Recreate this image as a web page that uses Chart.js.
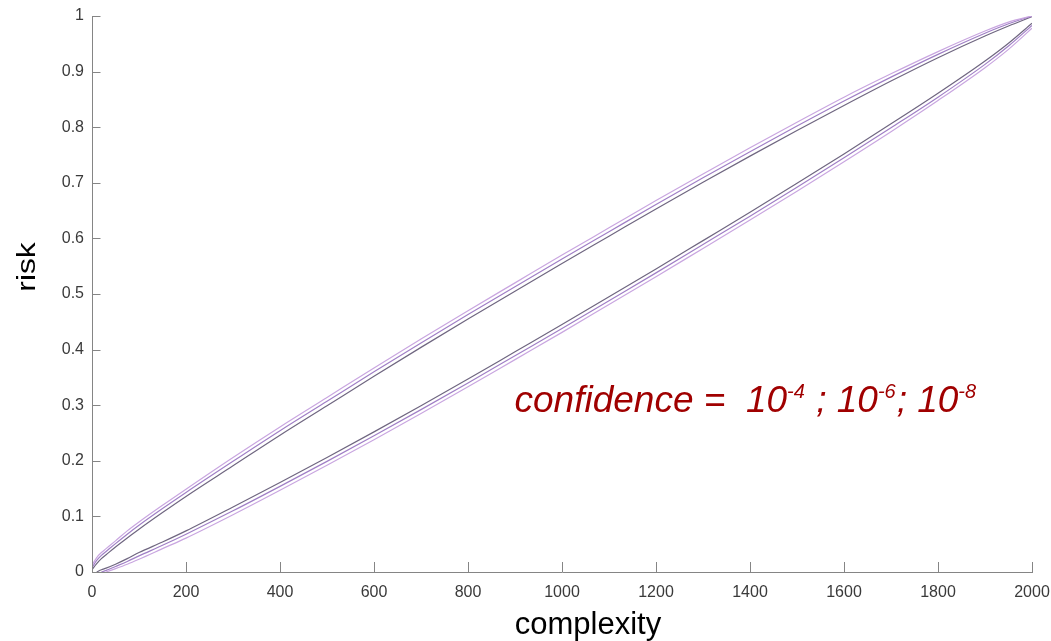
<!DOCTYPE html>
<html>
<head>
<meta charset="utf-8">
<script src="https://cdn.jsdelivr.net/npm/chart.js@4.4.1/dist/chart.umd.min.js"></script>
<style>
  html, body { margin: 0; padding: 0; background: #ffffff; }
  #wrap { width: 1051px; height: 641px; position: relative; }
</style>
</head>
<body>
<div id="wrap"><canvas id="c"></canvas></div>
<script>
// ---- data ----
const complexity = [0,10,20,30,50,75,100,150,200,300,400,500,600,700,800,900,1000,1100,1200,1300,1400,1500,1600,1700,1800,1900,1950,2000];

const upperConf4 = [0.004,0.015,0.024,0.031,0.045,0.061,0.077,0.107,0.136,0.191,0.246,0.299,0.352,0.404,0.455,0.505,0.555,0.604,0.653,0.701,0.748,0.794,0.839,0.883,0.925,0.964,0.982,0.999];
const upperConf6 = [0.008,0.021,0.030,0.037,0.051,0.068,0.084,0.114,0.143,0.199,0.254,0.307,0.360,0.412,0.463,0.513,0.563,0.612,0.661,0.709,0.756,0.802,0.847,0.890,0.931,0.969,0.986,1.000];
const upperConf8 = [0.012,0.026,0.035,0.042,0.056,0.074,0.090,0.120,0.149,0.206,0.261,0.314,0.367,0.419,0.470,0.520,0.570,0.619,0.668,0.716,0.763,0.809,0.854,0.896,0.936,0.973,0.989,1.000];

const lowerConf4 = [null,0,0.004,0.007,0.014,0.024,0.035,0.054,0.074,0.117,0.161,0.206,0.252,0.299,0.347,0.396,0.445,0.495,0.545,0.596,0.647,0.699,0.752,0.806,0.861,0.919,0.951,0.987];
const lowerConf6 = [null,null,0,0.003,0.010,0.019,0.029,0.048,0.068,0.110,0.154,0.199,0.245,0.292,0.340,0.389,0.438,0.488,0.538,0.589,0.640,0.692,0.745,0.799,0.854,0.913,0.946,0.983];
const lowerConf8 = [null,null,null,0,0.006,0.014,0.023,0.042,0.061,0.103,0.147,0.192,0.238,0.285,0.333,0.382,0.431,0.481,0.531,0.582,0.633,0.685,0.738,0.792,0.848,0.907,0.940,0.978];

const xTicks = [0,200,400,600,800,1000,1200,1400,1600,1800,2000];
const xTickLabels = ['0','200','400','600','800','1000','1200','1400','1600','1800','2000'];
const yTicks = [0,0.1,0.2,0.3,0.4,0.5,0.6,0.7,0.8,0.9,1];
const yTickLabels = ['0','0.1','0.2','0.3','0.4','0.5','0.6','0.7','0.8','0.9','1'];

const xTitle = 'complexity';
const yTitle = 'risk';
const noteParts = [
  {t: 'confidence =  10', sup: false},
  {t: '-4', sup: true},
  {t: ' ; 10', sup: false},
  {t: '-6', sup: true},
  {t: '; 10', sup: false},
  {t: '-8', sup: true}
];

// ---- styling ----
const FONT = "'Liberation Sans', Arial, Helvetica, sans-serif";
const colDark = '#6f6680';
const colMid = '#a07fc6';
const colLight = '#c9a6e0';
const axisColor = '#858585';

function pts(arr) { return complexity.map((k, i) => ({x: k, y: arr[i]})); }
function ds(label, arr, color) {
  return { label, data: pts(arr), borderColor: color, backgroundColor: color,
           borderWidth: 1.2, pointRadius: 0, fill: false,
           cubicInterpolationMode: 'monotone', spanGaps: false };
}

const decor = {
  id: 'decor',
  afterDraw(chart) {
    const ctx = chart.ctx;
    const xs = chart.scales.x, ys = chart.scales.y;
    const a = chart.chartArea;
    ctx.save();
    // inward tick marks
    ctx.strokeStyle = axisColor;
    ctx.lineWidth = 1;
    ctx.beginPath();
    yTicks.forEach(v => {
      const py = Math.round(ys.getPixelForValue(v)) + 0.5;
      ctx.moveTo(a.left, py); ctx.lineTo(a.left + 8.5, py);
    });
    xTicks.forEach(v => {
      const px = Math.round(xs.getPixelForValue(v)) + 0.5;
      ctx.moveTo(px, a.bottom); ctx.lineTo(px, a.bottom - 10);
    });
    ctx.stroke();

    // axis titles
    ctx.fillStyle = '#000000';
    ctx.font = '31px ' + FONT;
    ctx.textAlign = 'center';
    ctx.textBaseline = 'alphabetic';
    ctx.fillText(xTitle, 588, 634);
    ctx.save();
    ctx.translate(35, 267);
    ctx.rotate(-Math.PI / 2);
    ctx.scale(1.27, 1);
    ctx.font = '25px ' + FONT;
    ctx.fillText(yTitle, 0, 0);
    ctx.restore();

    // annotation
    let x = xs.getPixelForValue(899);
    const base = ys.getPixelForValue(0.288);
    ctx.fillStyle = '#a00000';
    ctx.textAlign = 'left';
    noteParts.forEach(p => {
      ctx.font = p.sup ? ('italic 20px ' + FONT) : ('italic 37px ' + FONT);
      const yy = p.sup ? base - 14 : base;
      ctx.fillText(p.t, x, yy);
      x += ctx.measureText(p.t).width + (p.sup ? 1 : 0);
    });
    ctx.restore();
  }
};

new Chart(document.getElementById('c'), {
  type: 'line',
  data: {
    datasets: [
      ds('upper 1e-8', upperConf8, colLight),
      ds('upper 1e-6', upperConf6, colMid),
      ds('upper 1e-4', upperConf4, colDark),
      ds('lower 1e-8', lowerConf8, colLight),
      ds('lower 1e-6', lowerConf6, colMid),
      ds('lower 1e-4', lowerConf4, colDark)
    ]
  },
  options: {
    responsive: true,
    maintainAspectRatio: false,
    animation: false,
    events: [],
    layout: { padding: { left: 0, right: 19, top: 16, bottom: 0 } },
    plugins: { legend: { display: false }, tooltip: { enabled: false }, title: { display: false } },
    scales: {
      x: {
        type: 'linear', min: 0, max: 2000,
        afterBuildTicks: s => { s.ticks = xTicks.map(v => ({value: v})); },
        afterFit: s => { s.height = 69; s.paddingRight = 0; s.paddingLeft = 0; },
        grid: { display: true, drawOnChartArea: false, drawTicks: false },
        border: { display: true, color: axisColor, width: 1 },
        ticks: { padding: 11, color: '#3a3a3a', font: { family: FONT, size: 16 },
                 maxRotation: 0, autoSkip: false,
                 callback: (v, i) => xTickLabels[i] }
      },
      y: {
        type: 'linear', min: 0, max: 1,
        afterBuildTicks: s => { s.ticks = yTicks.map(v => ({value: v})); },
        afterFit: s => { s.width = 92; s.paddingTop = 0; s.paddingBottom = 0; },
        grid: { display: true, drawOnChartArea: false, drawTicks: false },
        border: { display: true, color: axisColor, width: 1 },
        ticks: { padding: 8, color: '#3a3a3a', font: { family: FONT, size: 16 },
                 autoSkip: false,
                 callback: (v, i) => yTickLabels[i] }
      }
    }
  },
  plugins: [decor]
});
</script>
</body>
</html>
